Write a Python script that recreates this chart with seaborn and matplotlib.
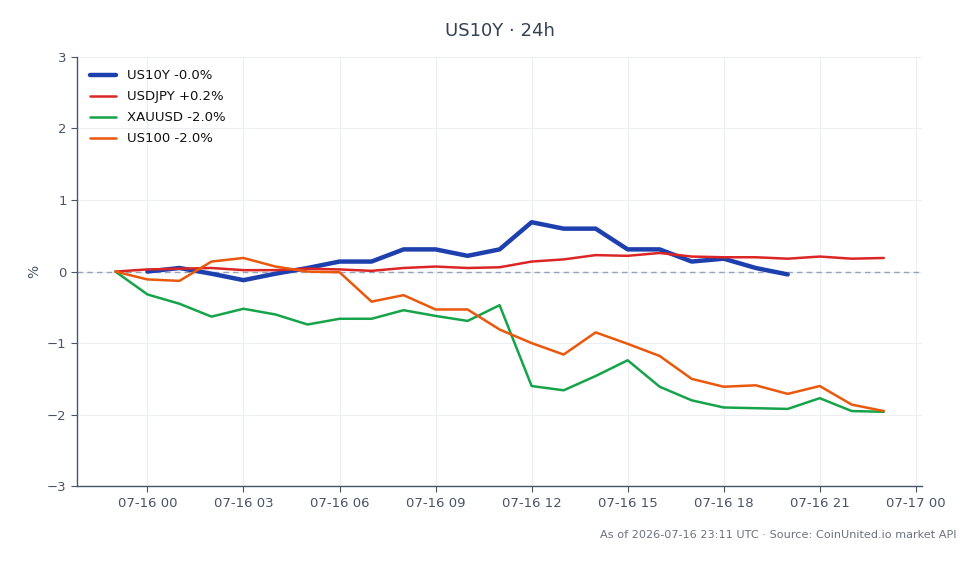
import matplotlib
matplotlib.use("Agg")
import matplotlib.pyplot as plt
import matplotlib.dates as mdates
import seaborn as sns
import pandas as pd
import numpy as np

# ---- data ----
start_all = "2026-07-15 23:00"
times_all = pd.date_range(start_all, periods=25, freq="h")
times_us10y = pd.date_range("2026-07-16 00:00", periods=21, freq="h")

us10y = [0.0, 0.05, -0.03, -0.12, -0.03, 0.05, 0.14, 0.14, 0.31, 0.31, 0.22,
         0.31, 0.69, 0.60, 0.60, 0.31, 0.31, 0.14, 0.18, 0.05, -0.04]
usdjpy = [0.0, 0.03, 0.04, 0.05, 0.02, 0.02, 0.04, 0.03, 0.01, 0.05, 0.07, 0.05,
          0.06, 0.14, 0.17, 0.23, 0.22, 0.26, 0.21, 0.20, 0.20, 0.18, 0.21, 0.18, 0.19]
xauusd = [0.0, -0.32, -0.45, -0.63, -0.52, -0.60, -0.74, -0.66, -0.66, -0.54, -0.62,
          -0.69, -0.47, -1.60, -1.66, -1.46, -1.24, -1.61, -1.80, -1.90, -1.91, -1.92,
          -1.77, -1.95, -1.96]
us100 = [0.0, -0.11, -0.13, 0.14, 0.19, 0.07, 0.0, -0.01, -0.42, -0.33, -0.53, -0.53,
         -0.81, -1.0, -1.16, -0.85, -1.01, -1.18, -1.50, -1.61, -1.59, -1.71, -1.60,
         -1.86, -1.95]

labels = ["US10Y -0.0%", "USDJPY +0.2%", "XAUUSD -2.0%", "US100 -2.0%"]
colors = ["#1e40af", "#dc2626", "#16a34a", "#ea580c"]
title = "US10Y · 24h"
footer = "As of 2026-07-16 23:11 UTC · Source: CoinUnited.io market API"

# ---- style ----
sns.set_theme(style="whitegrid")
plt.rcParams["font.family"] = ["DejaVu Sans"]
text_c = "#475569"

fig = plt.figure(figsize=(9.8, 5.64), dpi=100)
ax = fig.add_axes([0.0786, 0.138, 0.8624, 0.761])

series = [(times_us10y, us10y, 3.2), (times_all, usdjpy, 1.8),
          (times_all, xauusd, 1.8), (times_all, us100, 1.8)]
for (t, v, lw), lab, c in zip(series, labels, colors):
    df = pd.DataFrame({"t": t, "v": v})
    sns.lineplot(data=df, x="t", y="v", ax=ax, color=c, linewidth=lw, label=lab)

ax.axhline(0, color="#94a3b8", linestyle=(0, (4, 3)), linewidth=1.0, zorder=1)

ax.set_ylim(-3, 3)
ax.set_yticks([-3, -2, -1, 0, 1, 2, 3])
ax.set_yticklabels(["\u22123", "\u22122", "\u22121", "0", "1", "2", "3"])
ax.xaxis.set_major_locator(mdates.HourLocator(byhour=range(0, 24, 3)))
ax.xaxis.set_major_formatter(mdates.DateFormatter("%m-%d %H"))
ax.margins(x=0.05)

ax.grid(True, color="#eceef1", linewidth=0.8)
ax.set_facecolor("white")
for s in ["top", "right"]:
    ax.spines[s].set_visible(False)
for s in ["left", "bottom"]:
    ax.spines[s].set_visible(True)
    ax.spines[s].set_color("#475569")
    ax.spines[s].set_linewidth(1.0)
ax.tick_params(axis="both", colors=text_c, labelsize=9.5, length=4, width=0.8,
               left=True, bottom=True)
ax.set_xlabel("")
ax.set_ylabel("%", color=text_c, fontsize=10)
ax.set_title(title, color="#334155", fontsize=13, pad=15)

leg = ax.legend(loc="upper left", frameon=False, fontsize=9.5, handlelength=2.0,
                handletextpad=0.8, labelspacing=0.6, borderaxespad=0.55)
for txt in leg.get_texts():
    txt.set_color("#111111")

fig.text(0.976, 0.043, footer, ha="right", va="bottom", fontsize=8.1, color="#6b7280")

fig.savefig("out.png", dpi=100)
